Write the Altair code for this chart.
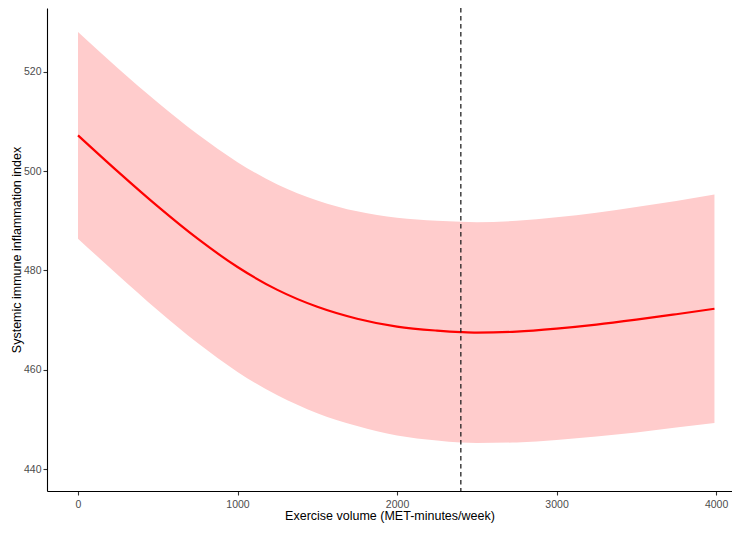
import altair as alt
import pandas as pd

# Exercise volume (MET-minutes/week)
x_vals = [0, 250, 500, 750, 1000, 1250, 1500, 1750, 2000, 2250, 2400, 2500,
          2750, 3000, 3250, 3500, 3750, 3990]
# Fitted systemic immune inflammation index
sii_fit = [507.2, 499.9, 492.9, 486.4, 480.7, 476.1, 472.7, 470.3, 468.7, 467.9,
           467.6, 467.5, 467.7, 468.3, 469.1, 470.1, 471.2, 472.3]
# 95% confidence band
sii_lower = [486.4, 479.1, 472.0, 465.4, 459.6, 454.9, 451.3, 448.7, 446.8, 445.8,
             445.4, 445.3, 445.4, 445.9, 446.6, 447.4, 448.4, 449.3]
sii_upper = [528.0, 520.7, 513.8, 507.4, 501.8, 497.3, 494.1, 491.9, 490.6, 490.0,
             489.8, 489.7, 490.0, 490.7, 491.6, 492.8, 494.0, 495.3]
# Inflection point
cutoff = [2400]

x_ticks = [0, 1000, 2000, 3000, 4000]
y_ticks = [440, 460, 480, 500, 520]

df = pd.DataFrame({"x": x_vals, "fit": sii_fit, "lo": sii_lower, "hi": sii_upper})
df_cut = pd.DataFrame({"x": cutoff})

FONT = "Liberation Sans"

x_scale = alt.Scale(domain=[-194.4, 4100], nice=False, zero=False)
y_scale = alt.Scale(domain=[435.63, 532.82], nice=False, zero=False)

x_axis = alt.Axis(values=x_ticks, format="d", title="Exercise volume (MET-minutes/week)",
                  grid=False, tickSize=4, labelPadding=4, titlePadding=0)
y_axis = alt.Axis(values=y_ticks, format="d", title="Systemic immune inflammation index",
                  grid=False, tickSize=4, labelPadding=2, titlePadding=0)

band = alt.Chart(df).mark_area(color="#ffcccc", opacity=1, interpolate="monotone").encode(
    x=alt.X("x:Q", scale=x_scale, axis=x_axis),
    y=alt.Y("lo:Q", scale=y_scale, axis=y_axis),
    y2="hi:Q",
)

line = alt.Chart(df).mark_line(color="#ff0000", strokeWidth=2.2, interpolate="monotone").encode(
    x=alt.X("x:Q", scale=x_scale),
    y=alt.Y("fit:Q", scale=y_scale),
)

vline = alt.Chart(df_cut).mark_rule(color="#222222", strokeWidth=1.3, strokeDash=[4.5, 3.5]).encode(
    x=alt.X("x:Q", scale=x_scale),
)

chart = (band + line + vline).properties(
    width=685,
    height=483,
    autosize=alt.AutoSizeParams(type="none"),
    padding={"left": 39, "top": 0, "right": 0, "bottom": 34},
).configure_view(stroke=None).configure_axis(
    domainColor="#000000",
    domainWidth=1.1,
    tickColor="#333333",
    tickWidth=1.1,
    labelFont=FONT,
    labelFontSize=10.5,
    labelColor="#4d4d4d",
    titleFont=FONT,
    titleFontSize=12.5,
    titleFontWeight="normal",
    titleColor="#000000",
)

chart.save("out.html", embed_options={"renderer": "svg", "actions": False})
